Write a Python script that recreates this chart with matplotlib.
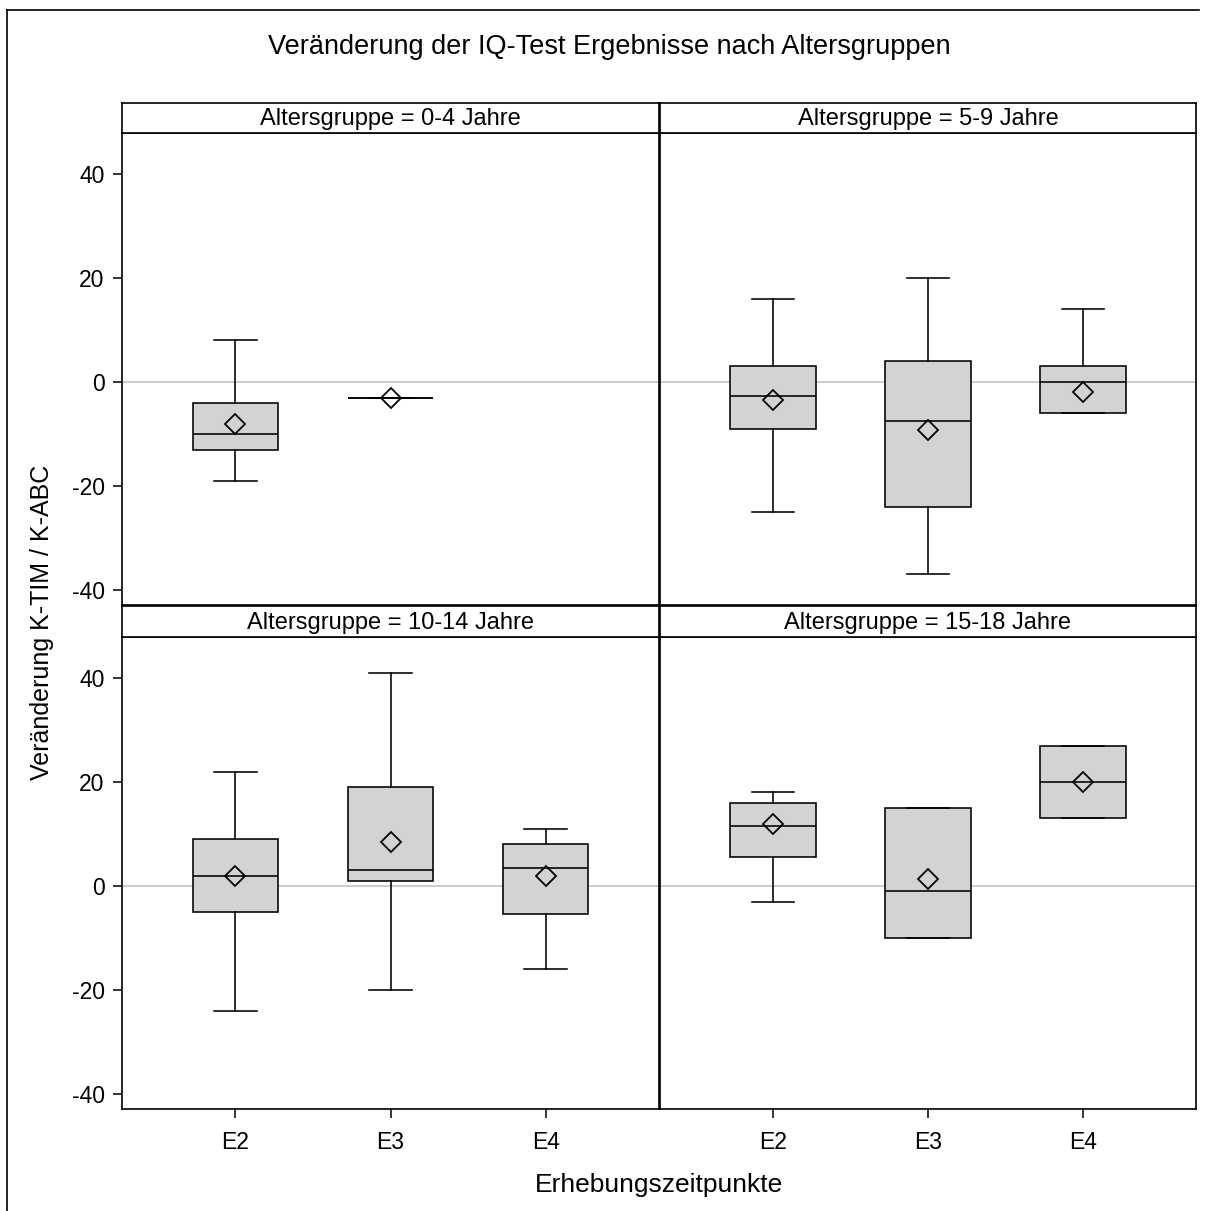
import numpy as np
import matplotlib
matplotlib.use('Agg')
import matplotlib.pyplot as plt
from matplotlib.lines import Line2D

plt.rcParams['font.family'] = ['Liberation Sans', 'DejaVu Sans']
plt.rcParams['axes.unicode_minus'] = False

nan = np.nan
title = 'Veränderung der IQ-Test Ergebnisse nach Altersgruppen'
xlabel = 'Erhebungszeitpunkte'
ylabel = 'Veränderung K-TIM / K-ABC'
categories = ['E2', 'E3', 'E4']
panel_titles = ['Altersgruppe = 0-4 Jahre', 'Altersgruppe = 5-9 Jahre',
                'Altersgruppe = 10-14 Jahre', 'Altersgruppe = 15-18 Jahre']

# per panel (rows) and per category E2, E3, E4 (nan = no data)
whisker_low = [[-19, -3, nan], [-25, -37, -6], [-24, -20, -16], [-3, -10, 13]]
q1_vals = [[-13, -3, nan], [-9, -24, -6], [-5, 1, -5.4], [5.5, -10, 13]]
median_vals = [[-10, -3, nan], [-2.6, -7.5, 0], [2, 3, 3.5], [11.5, -1, 20]]
q3_vals = [[-4, -3, nan], [3, 4, 3], [9, 19, 8], [16, 15, 27]]
whisker_high = [[8, -3, nan], [16, 20, 14], [22, 41, 11], [18, 15, 27]]
mean_vals = [[-8, -3, nan], [-3.5, -9.3, -1.9], [2, 8.4, 1.9], [12, 1.3, 20]]
yticks = [-40, -20, 0, 20, 40]

W, H = 1207, 1211
fig = plt.figure(figsize=(W / 100, H / 100), dpi=100)

def fx(px):
    return px / W

def fy(py):
    return 1 - py / H

col_x = [(122, 659), (660, 1196)]
row_y = [((103, 133), (133, 605)), ((606, 637), (637, 1109))]

lw = 1.15
for i in range(4):
    r, c = divmod(i, 2)
    x0, x1 = col_x[c]
    (hy0, hy1), (py0, py1) = row_y[r]
    ax = fig.add_axes([fx(x0), fy(py1), fx(x1 - x0), (py1 - py0) / H])
    ax.set_xlim(-0.73, 2.73)
    ax.set_ylim(-42.9, 47.9)
    ax.axhline(0, color='#c8c8c8', lw=1.3, zorder=0.5)
    stats, pos = [], []
    for j in range(3):
        if np.isnan(median_vals[i][j]):
            continue
        stats.append(dict(med=median_vals[i][j], q1=q1_vals[i][j], q3=q3_vals[i][j],
                          whislo=whisker_low[i][j], whishi=whisker_high[i][j],
                          mean=mean_vals[i][j], fliers=[]))
        pos.append(j)
    ax.bxp(stats, positions=pos, widths=0.55, patch_artist=True, showmeans=True,
           showfliers=False, manage_ticks=False,
           boxprops=dict(facecolor='#d3d3d3', edgecolor='black', linewidth=lw),
           whiskerprops=dict(color='black', linewidth=lw),
           capprops=dict(color='black', linewidth=lw),
           medianprops=dict(color='black', linewidth=lw),
           meanprops=dict(marker='D', markerfacecolor='none', markeredgecolor='black',
                          markersize=10, markeredgewidth=1.3))
    for s in ax.spines.values():
        s.set_linewidth(1.2)
        s.set_color('black')
    ax.set_xticks(range(3))
    ax.set_yticks(yticks)
    ax.tick_params(axis='both', direction='out', length=6.5, width=1.1, labelsize=16.5)
    ax.tick_params(axis='y', pad=6)
    ax.tick_params(axis='x', pad=9)
    if c == 0:
        ax.set_yticklabels([str(v) for v in yticks])
    else:
        ax.tick_params(axis='y', left=False, labelleft=False)
    if r == 1:
        ax.set_xticklabels(categories)
    else:
        ax.tick_params(axis='x', bottom=False, labelbottom=False)

    hax = fig.add_axes([fx(x0), fy(hy1), fx(x1 - x0), (hy1 - hy0) / H])
    hax.set_xticks([])
    hax.set_yticks([])
    for s in hax.spines.values():
        s.set_linewidth(1.2)
    hax.text(0.5, 0.45, panel_titles[i], ha='center', va='center', fontsize=17,
             transform=hax.transAxes)

fig.text(fx(609), fy(47), title, ha='center', va='center', fontsize=19.5)
fig.text(fx(659), fy(1185), xlabel, ha='center', va='center', fontsize=19)
fig.text(fx(42), fy(622), ylabel, ha='center', va='center', rotation=90, fontsize=18)

fig.add_artist(Line2D([fx(7), fx(7)], [0, fy(10)], color='black', lw=1.2))
fig.add_artist(Line2D([fx(7), fx(1199)], [fy(10), fy(10)], color='black', lw=1.2))

fig.savefig('out.png', dpi=100)
